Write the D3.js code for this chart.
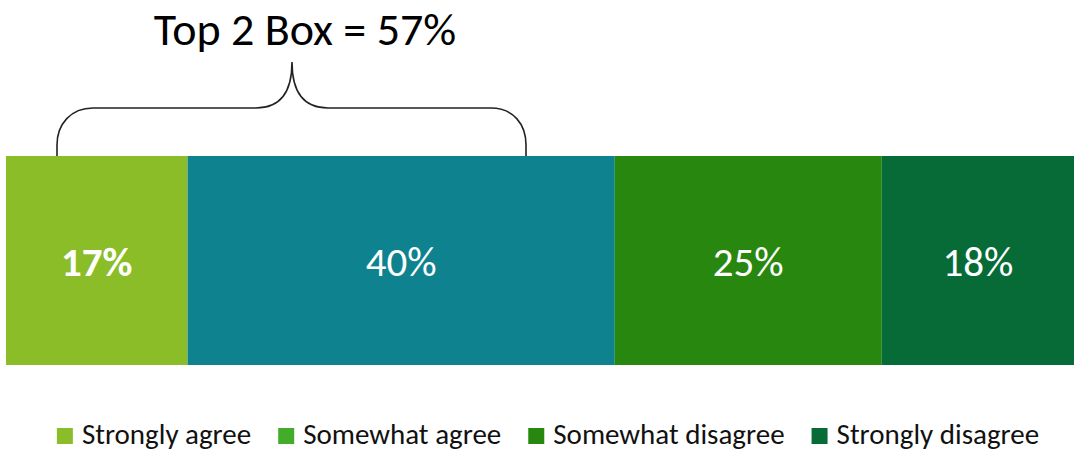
<!DOCTYPE html>
<html>
<head>
<meta charset="utf-8">
<script src="https://cdn.jsdelivr.net/npm/d3@7"></script>
<style>
  html, body { margin: 0; padding: 0; background: #fff; }
  svg { display: block; font-family: Calibri, Carlito, Lato, "Open Sans", sans-serif; }
</style>
</head>
<body>
<svg id="chart" width="1074" height="451"></svg>
<script>
// Response shares (percent), one stacked bar
const categories = ["Strongly agree", "Somewhat agree", "Somewhat disagree", "Strongly disagree"];
const values = [17, 40, 25, 18];
const barColors = ["#8abd28", "#0e828e", "#28870e", "#066b37"];
const legendColors = ["#8abd28", "#43ad2b", "#28870e", "#066b37"];
const boldLabel = [true, false, false, false];
const annotation = "Top 2 Box = 57%";

const svg = d3.select("#chart");

const x = d3.scaleLinear().domain([0, d3.sum(values)]).range([6, 1074]);
const y = d3.scaleBand().domain(["All"]).range([156, 365]);

// cumulative starts for stacking
const starts = values.map((v, i) => d3.sum(values.slice(0, i)));
const segs = values.map((v, i) => ({ cat: categories[i], v, x0: starts[i], x1: starts[i] + v, i }));

svg.append("g").selectAll("rect")
  .data(segs)
  .join("rect")
  .attr("x", d => x(d.x0))
  .attr("y", y("All"))
  .attr("width", d => x(d.x1) - x(d.x0))
  .attr("height", y.bandwidth())
  .attr("fill", d => barColors[d.i]);

svg.append("g").selectAll("text")
  .data(segs)
  .join("text")
  .attr("x", d => (x(d.x0) + x(d.x1)) / 2)
  .attr("y", y("All") + y.bandwidth() / 2 + 15)
  .attr("text-anchor", "middle")
  .attr("fill", "#fff")
  .attr("font-size", 41)
  .attr("font-weight", d => boldLabel[d.i] ? 700 : 400)
  .text(d => d.v + "%");

// curly brace over the top-two-box span
svg.append("path")
  .attr("d", "M57,156 L57,145 C57,124 71,108 93,108 L256,108 C280,108 292,92 292,62 C292,92 304,108 328,108 L491,108 C513,108 526,124 526,145 L526,156")
  .attr("fill", "none")
  .attr("stroke", "#222")
  .attr("stroke-width", 1.6);

svg.append("text")
  .attr("x", 305)
  .attr("y", 45)
  .attr("text-anchor", "middle")
  .attr("font-size", 46)
  .attr("fill", "#000")
  .text(annotation);

// legend, laid out from measured text widths
const legend = svg.append("g");
const sw = 16, gapText = 9, gapItem = 27, fs = 29;
let cx = 0;
categories.forEach((c, i) => {
  const g = legend.append("g");
  g.append("rect").attr("x", 0).attr("y", 428).attr("width", sw).attr("height", sw).attr("fill", legendColors[i]);
  const t = g.append("text").attr("x", sw + gapText).attr("y", 444).attr("font-size", fs).attr("fill", "#111").text(c);
  const w = t.node().getComputedTextLength();
  g.attr("transform", `translate(${cx},0)`);
  cx += sw + gapText + w + gapItem;
});
const total = cx - gapItem;
legend.attr("transform", `translate(${548 - total / 2},0)`);
</script>
</body>
</html>
